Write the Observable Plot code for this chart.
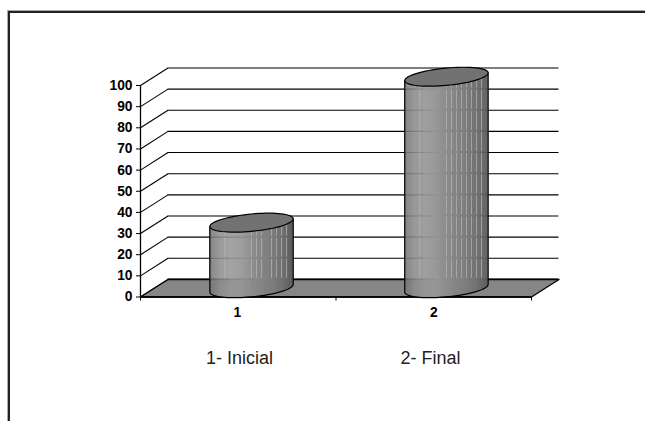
<!DOCTYPE html>
<html><head><meta charset="utf-8">
<script src="https://cdn.jsdelivr.net/npm/d3@7"></script>
<script src="https://cdn.jsdelivr.net/npm/@observablehq/plot@0.6"></script>
<style>
html,body{margin:0;padding:0;background:#fff;width:645px;height:421px;overflow:hidden}
#frame{position:absolute;left:8px;top:11px;right:-5px;bottom:-5px;border-top:2.5px solid #222;border-left:2.5px solid #222;box-shadow:-1px -1px 0 #aaa}
#chart{position:absolute;left:0;top:0}
svg{display:block;max-width:none}
</style></head><body>
<div id="frame"></div><div id="chart"></div>
<script>
const categories = ["1", "2"];
const values = [31, 100];
const yTicks = [0,10,20,30,40,50,60,70,80,90,100];
const legendLabels = ["1- Inicial", "2- Final"];
const legendX = [0.506, 1.483];
const barCenters = [0.568, 1.565];
const shadeStops = ["#747474","#8e8e8e","#989898","#969696","#8c8c8c","#848484","#7c7c7c","#707070","#5a5a5a"];
const stripePos = [0.18,0.5,0.56,0.62,0.68,0.74,0.8,0.86,0.92];

const depthX = 0.1407, depthY = 8.3;
const rx = 0.2133, ry = 4.1, shear = 1.82;
const floorCenter = depthY / 2;

const shade = d3.scaleLinear().domain(d3.range(shadeStops.length).map(i => i/(shadeStops.length-1))).range(shadeStops);
const ell = (cx, cy) => d3.range(0, 73).map(i => {
  const t = i/72*2*Math.PI;
  return {x: cx + rx*Math.cos(t), y: cy + shear*Math.cos(t) + ry*Math.sin(t)};
});
const arcY = (u, cy, side) => cy + shear*u + side*ry*Math.sqrt(Math.max(0,1-u*u));

const slices = [], stripes = [], bodies = [], tops = [];
values.forEach((v, b) => {
  const cx = barCenters[b], top = floorCenter + v;
  const n = 84;
  for (let i = 0; i < n; i++) {
    const f = i/n, u = (f + .5/n)*2 - 1;
    slices.push({x1: cx + rx*(f*2-1), x2: cx + rx*((f+1.25/n)*2-1),
      y1: arcY(u, floorCenter, -1), y2: arcY(u, top, -1), color: shade(f)});
  }
  stripePos.forEach(p => {
    if (b === 0 && p === 0.68) return;
    const u = p*2-1, limit = arcY(u, top, -1);
    for (const g of yTicks.slice(0,-1)) {
      const y1 = g + depthY + .5, y2 = Math.min(g + 10 + depthY - .5, limit);
      if (y2 > y1) stripes.push({x: cx + rx*u, y1, y2});
    }
  });
  const lower = d3.range(0, 37).map(i => {const t = Math.PI + i/36*Math.PI; return {x: cx + rx*Math.cos(t), y: floorCenter + shear*Math.cos(t) + ry*Math.sin(t)};});
  bodies.push({cx, pts: [{x: cx-rx, y: top-shear}, ...lower, {x: cx+rx, y: top+shear}]});
  tops.push(ell(cx, top));
});

const floor = [{x:0,y:0},{x:2,y:0},{x:2+depthX,y:depthY},{x:depthX,y:depthY},{x:0,y:0}];
const ink = "#000";

const plot = Plot.plot({
  width: 645, height: 421,
  marginLeft: 140, marginRight: 114, marginTop: 85, marginBottom: 124.5,
  style: {background: "transparent", fontFamily: "'Liberation Sans', Arial, sans-serif", overflow: "visible"},
  x: {domain: [0,2]},
  y: {domain: [0,100]},
  color: {type: "identity"},
  marks: [
    Plot.link(yTicks, {x1: 0, y1: d => d, x2: depthX, y2: d => d + depthY, stroke: ink, strokeWidth: 1.1}),
    Plot.ruleY(yTicks, {x1: depthX, x2: 2 + depthX, y: d => d + depthY, stroke: ink, strokeWidth: 1.1}),
    Plot.line(floor, {x: "x", y: "y", fill: "#868686", stroke: ink, strokeWidth: 1.3}),
    Plot.ruleY([depthY], {x1: depthX, x2: 2 + depthX, stroke: ink, strokeWidth: 1.8}),
    Plot.ruleX([0], {y1: 0, y2: 100, stroke: ink, strokeWidth: 1.3}),
    Plot.ruleY([0], {x1: 0, x2: 2, stroke: ink, strokeWidth: 1.3}),
    Plot.rect(slices, {x1: "x1", x2: "x2", y1: "y1", y2: "y2", fill: "color"}),
    Plot.ruleX(stripes, {x: "x", y1: "y1", y2: "y2", stroke: "#bcbcbc", strokeWidth: 0.9, strokeOpacity: 0.75}),
    ...bodies.map(b => Plot.line(b.pts, {x: "x", y: "y", stroke: ink, strokeWidth: 1.2})),
    ...tops.map(t => Plot.line(t, {x: "x", y: "y", fill: "#727272", stroke: ink, strokeWidth: 1.2})),
    Plot.axisY({ticks: yTicks, tickSize: 4, tickPadding: 4, label: null, fontSize: 13.8, fontWeight: "bold", fill: ink, stroke: ink}),
    Plot.axisX({ticks: [0,1,2], tickSize: 4, tickFormat: () => "", label: null, stroke: ink}),
    Plot.axisX({ticks: [0.496,1.5], tickSize: 0, tickPadding: 10, tickFormat: (d,i) => categories[i], label: null, fontSize: 13.8, fontWeight: "bold", fill: ink}),
    Plot.text(legendLabels, {x: (d,i) => legendX[i], y: -29, text: d => d, fontSize: 18, fill: "#222"})
  ]
});
document.getElementById("chart").appendChild(plot);
</script>
</body></html>
